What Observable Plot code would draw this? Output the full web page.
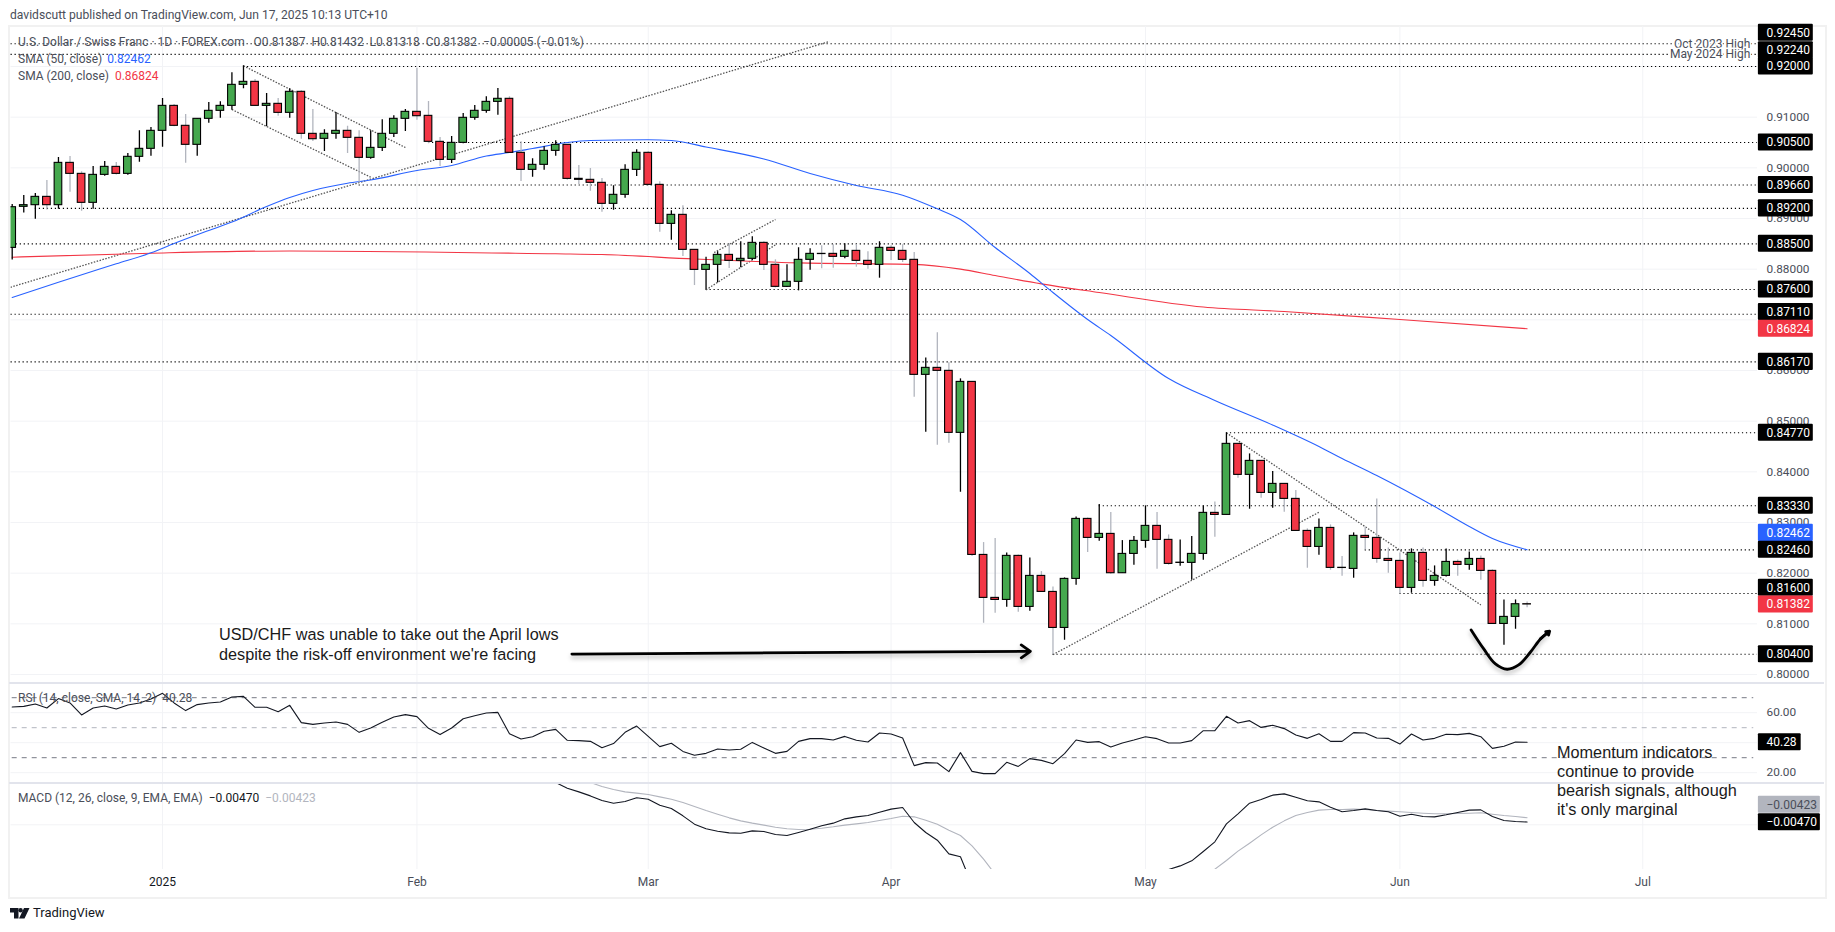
<!DOCTYPE html>
<html>
<head>
<meta charset="utf-8">
<script src="https://cdn.jsdelivr.net/npm/d3@7"></script>
<script src="https://cdn.jsdelivr.net/npm/@observablehq/plot@0.6"></script>
<style>
html,body{margin:0;padding:0;background:#fff;overflow:hidden}
#page{position:relative;width:1835px;height:932px;overflow:hidden;font-family:Roboto,sans-serif;color:#4a4e59}
#page svg{position:absolute;left:0;overflow:visible}
.t{position:absolute;white-space:pre;font-size:12px;line-height:14px}
#frame{position:absolute;left:8px;top:25px;width:1815px;height:870px;border:2px solid #f1f1f1;pointer-events:none}
.div{position:absolute;left:9px;width:1815px;height:2px;background:#e2e4ec}
.note{position:absolute;white-space:pre;font-family:"Liberation Sans",Arial,sans-serif;font-size:16.25px;color:#1a1a1a}
</style>
</head>
<body>
<div id="page">
  <div class="t" style="left:10px;top:8px;font-size:12.1px">davidscutt published on TradingView.com, Jun 17, 2025 10:13 UTC+10</div>
  <div id="frame"></div>
  <div id="plots"></div>
  <div class="div" style="top:682px"></div>
  <div class="div" style="top:782px"></div>
  <div class="t" style="left:18px;top:35px">U.S. Dollar / Swiss Franc · 1D · FOREX.com   O0.81387  H0.81432  L0.81318  C0.81382  −0.00005 (−0.01%)</div>
  <div class="t" style="left:18px;top:52px">SMA (50, close) <span style="color:#2962ff;margin-left:2px">0.82462</span></div>
  <div class="t" style="left:18px;top:69px">SMA (200, close)  <span style="color:#f23645">0.86824</span></div>
  <div class="t" style="left:18px;top:691px">RSI (14, close, SMA, 14, 2)  40.28</div>
  <div class="t" style="left:18px;top:791px">MACD (12, 26, close, 9, EMA, EMA)  <span style="color:#131722">−0.00470</span>  <span style="color:#b2b5be">−0.00423</span></div>
  <div class="note" style="left:219px;top:624px;line-height:20px">USD/CHF was unable to take out the April lows
despite the risk-off environment we're facing</div>
  <div class="note" style="left:1557px;top:743px;line-height:19px">Momentum indicators
continue to provide
bearish signals, although
it's only marginal</div>
  <svg style="left:10px;top:908px" width="20" height="12" viewBox="0 0 20 12"><path d="M0 0h8.5v10.5H4V4.5H0z M14 0h5.5L14.5 10.5H9z" fill="#131722"/><circle cx="10.6" cy="2.2" r="2.2" fill="#131722"/></svg>
  <div class="t" style="left:33px;top:906px;font-size:13px;color:#131722">TradingView</div>
</div>
<script>
// ---- candles, one entry per trading day (bar 0 .. bar 131)
const opens = [
.88420,.89230,.89263,.89427,.89263,.90098,.89881,.89309,.89861,.90019,
.89881,.90217,.90375,.90730,.91223,.90829,.90454,.90967,.91125,.91223,
.91638,.91697,.91223,.91263,.91085,.91500,.90671,.90572,.90671,.90730,
.90592,.90197,.90394,.90671,.90967,.91105,.91026,.90513,.90157,.90493,
.90987,.91125,.91302,.91362,.90296,.89960,.90059,.90335,.90454,.89783,
.89763,.89704,.89289,.89467,.89960,.90296,.89664,.88894,.89072,.88381,
.87986,.88085,.88282,.88164,.88204,.88519,.88085,.87651,.87750,.88184,
.88302,.88302,.88243,.88361,.88164,.88085,.88421,.88361,.88184,.85914,
.86052,.85993,.84769,.85775,.82360,.81512,.81472,.82341,.81334,.81946,
.81630,.80919,.81887,.83071,.82696,.82775,.81999,.82380,.82637,.82933,
.82657,.82202,.82203,.82380,.83190,.83150,.84552,.83940,.84216,.83584,
.83762,.83466,.82834,.82518,.82893,.82106,.82084,.82736,.82696,.82281,
.82242,.81709,.82400,.81847,.81946,.82222,.82163,.82281,.82045,.80998,
.81137,.81387];
const closes = [
.89223,.89263,.89427,.89263,.90098,.89881,.89309,.89861,.90019,.89881,
.90217,.90375,.90730,.91223,.90829,.90454,.90967,.91125,.91223,.91638,
.91697,.91223,.91263,.91085,.91500,.90671,.90565,.90671,.90730,.90592,
.90197,.90394,.90671,.90967,.91105,.91019,.90513,.90157,.90493,.90987,
.91125,.91302,.91362,.90296,.89960,.90059,.90335,.90454,.89782,.89763,
.89704,.89289,.89467,.89960,.90296,.89664,.88894,.89072,.88381,.87986,
.88085,.88282,.88164,.88204,.88519,.88085,.87651,.87750,.88184,.88302,
.88298,.88243,.88361,.88164,.88085,.88421,.88361,.88184,.85914,.86052,
.85993,.84769,.85775,.82360,.81512,.81472,.82341,.81334,.81946,.81630,
.80919,.81887,.83071,.82696,.82775,.81999,.82380,.82637,.82933,.82657,
.82183,.82207,.82380,.83190,.83150,.84552,.83940,.84216,.83584,.83762,
.83466,.82834,.82518,.82893,.82104,.82102,.82736,.82696,.82281,.82242,
.81709,.82400,.81847,.81946,.82222,.82163,.82281,.82045,.80998,.81137,
.81387,.81382];
const highs = [
.89276,.89453,.89493,.89749,.90204,.90223,.89921,.90026,.90125,.90105,
.90282,.90730,.90796,.91368,.91250,.91052,.90967,.91289,.91302,.91875,
.92013,.91743,.91467,.91368,.91559,.91520,.91151,.90750,.91092,.90822,
.90730,.90730,.90947,.91026,.91151,.91967,.91309,.90598,.90618,.91072,
.91230,.91401,.91566,.91401,.90513,.90177,.90414,.90533,.90454,.90046,
.89987,.89789,.89645,.90059,.90355,.90316,.89723,.89151,.89250,.88381,
.88236,.88342,.88500,.88539,.88638,.88539,.88184,.88085,.88421,.88401,
.88460,.88480,.88500,.88480,.88342,.88539,.88460,.88480,.88329,.86249,
.86743,.86151,.85835,.85775,.82604,.82683,.82400,.82360,.82301,.82031,
.81729,.81906,.83111,.83091,.83354,.83196,.82643,.82722,.83328,.83196,
.82755,.82657,.82722,.83328,.83407,.84769,.84552,.84354,.84216,.84005,
.83762,.83630,.82874,.83071,.82953,.82328,.82795,.82913,.83466,.82499,
.82400,.82479,.82499,.82143,.82479,.82262,.82420,.82341,.82064,.81472,
.81472,.81432];
const lows = [
.88183,.89111,.88986,.89170,.89184,.89519,.89144,.89184,.89835,.89861,
.89855,.90111,.90230,.90408,.90809,.90092,.90230,.90881,.90980,.91138,
.91559,.91217,.90809,.91019,.90980,.90565,.90519,.90322,.90565,.90282,
.89697,.90171,.90322,.90598,.90717,.90940,.90473,.90026,.90085,.90473,
.90940,.91079,.91039,.90289,.89730,.89815,.89953,.90230,.89756,.89671,
.89539,.89125,.89164,.89401,.89829,.89645,.88730,.88572,.88250,.87677,
.87592,.87730,.88013,.88026,.88171,.87973,.87631,.87638,.87572,.87980,
.88006,.88019,.88204,.88039,.88000,.87822,.88171,.88131,.85473,.84782,
.84525,.84565,.83597,.82327,.81011,.81209,.81328,.81229,.81248,.81624,
.80393,.80676,.81762,.82407,.82630,.81979,.81999,.82156,.82492,.82078,
.82156,.82137,.81860,.82255,.82709,.83150,.83874,.83262,.83479,.83282,
.83203,.82834,.82097,.82354,.82058,.81939,.81900,.82459,.82196,.81999,
.81591,.81604,.81722,.81742,.81926,.81939,.82058,.81860,.80998,.80577,
.80893,.81318];

// ---- moving averages: [bar, value] read at the visible vertices
const sma50Bars = [0,4,9,12,14,17,19,22,24,26,29,31,35,38,41,43,45,48,50,55,57,60,65,69,73,77,80,82,85,88,90,93,95,100,104,109,113,115,118,123,126,128,131];
const sma50Vals = [.87440,.87742,.88105,.88322,.88506,.88763,.88930,.89236,.89414,.89552,.89696,.89760,.89947,.90046,.90233,.90302,.90381,.90500,.90539,.90553,.90539,.90411,.90174,.89888,.89651,.89460,.89191,.88980,.88427,.87914,.87539,.87006,.86690,.85841,.85407,.84923,.84499,.84262,.83926,.83314,.82920,.82683,.82462];
const sma200Bars = [0,12,24,47,51,59,68,78,82,85,89,94,103,110,120,131];
const sma200Vals = [.88236,.88315,.88360,.88303,.88289,.88200,.88125,.88095,.88000,.87874,.87710,.87539,.87252,.87164,.87006,.86824];

// ---- RSI, bar 0 .. bar 131
const rsiVals = [
63.8,64.2,65.8,63.1,69.4,66.5,58.5,63.1,64.5,62.5,65.1,66.5,69.1,72.9,66.5,61.4,65.4,66.5,67.1,70.5,
70.9,63.6,63.6,60.7,64.9,53.4,52.2,53.1,53.8,52.2,46.9,49.8,53.6,57.1,58.7,57.4,49.6,45.4,49.8,56.0,
58.0,59.8,60.2,46.0,42.5,44.0,47.6,48.9,41.6,41.4,40.9,36.7,39.4,46.9,51.1,44.2,37.4,39.6,34.2,31.6,
32.9,35.8,35.1,35.6,40.2,36.5,32.9,34.2,40.9,42.7,42.7,41.8,44.2,41.6,40.5,46.5,45.8,43.1,24.7,26.7,
26.5,20.7,33.4,20.9,19.4,19.4,26.9,24.2,29.4,28.2,26.0,32.7,41.8,40.2,40.7,37.1,39.8,41.8,44.0,42.7,
39.8,39.8,41.4,48.0,48.0,57.6,53.1,54.7,50.2,51.6,49.4,45.1,42.9,46.0,40.9,40.9,46.7,46.5,43.1,42.9,
39.1,45.8,41.8,42.9,45.6,45.4,46.2,44.0,36.2,37.6,40.5,40.28];

// ---- MACD: only the stretches that stay inside the pane
const macdStartA = 47;
const macdA = [-.00038,-.00100,-.00140,-.00184,-.00235,-.00264,-.00246,-.00205,-.00220,-.00286,-.00322,-.00402,-.00493,-.00544,-.00570,-.00588,-.00592,-.00566,-.00573,-.00606,-.00617,-.00584,-.00548,-.00511,-.00482,-.00435,-.00413,-.00399,-.00362,-.00329,-.00311,-.00475,-.00584,-.00668,-.00818,-.00850,-.01156];
const macdStartB = 100;
const macdB = [-.00989,-.00949,-.00894,-.00792,-.00686,-.00490,-.00380,-.00264,-.00224,-.00176,-.00162,-.00198,-.00238,-.00249,-.00307,-.00358,-.00344,-.00326,-.00344,-.00358,-.00406,-.00384,-.00409,-.00413,-.00391,-.00366,-.00340,-.00337,-.00409,-.00453,-.00464,-.00470];
const signalStartA = 50;
const signalA = [-.00038,-.00082,-.00114,-.00140,-.00154,-.00169,-.00195,-.00220,-.00256,-.00300,-.00344,-.00384,-.00424,-.00457,-.00482,-.00504,-.00526,-.00544,-.00552,-.00548,-.00537,-.00522,-.00504,-.00490,-.00475,-.00453,-.00431,-.00406,-.00413,-.00450,-.00493,-.00559,-.00617,-.00730,-.00876,-.01040];
const signalStartB = 104;
const signalB = [-.00985,-.00890,-.00788,-.00701,-.00610,-.00526,-.00457,-.00399,-.00366,-.00340,-.00333,-.00333,-.00329,-.00333,-.00344,-.00351,-.00358,-.00366,-.00373,-.00380,-.00380,-.00377,-.00373,-.00369,-.00384,-.00399,-.00409,-.00423];

// ---- axes and levels
const monthBars = [35,55,76,98,120,141];
const monthNames = ["Feb","Mar","Apr","May","Jun","Jul"];
const yearBar = 13, yearName = "2025";
const priceGrid = [.80,.81,.82,.83,.84,.85,.86,.87,.88,.89,.90,.91,.92];
const priceTicks = [.80,.81,.82,.83,.84,.85,.86,.88,.89,.90,.91];
const levelValues = [.9245,.9224,.92,.905,.8966,.892,.885,.876,.8711,.8617,.8477,.8333,.8246,.816,.804];
const levelStarts = [-1,-1,20,36,30,2,0,60,-1,-1,105,94,117,120,90];

const tagLabels  = ["0.92450","0.92240","0.92000","0.90500","0.89660","0.89200","0.88500","0.87600","0.87110","0.86824","0.86170","0.84770","0.83330","0.82462","0.82460","0.81600","0.81382","0.80400"];
const tagCenters = [.92665,.92322,.92,.905,.8966,.892,.885,.876,.87154,.86824,.8617,.8477,.8333,.82795,.8246,.8171,.81382,.804];
const tagColors  = ["#000","#000","#000","#000","#000","#000","#000","#000","#000","#f23645","#000","#000","#000","#2962ff","#000","#000","#f23645","#000"];

// ---- drawn trend lines: bar, price pairs
const trendX1 = [-0.15,20,19,60,60.7,90,105];
const trendY1 = [.87643,.92013,.91151,.87592,.88328,.80393,.84769];
const trendX2 = [70.67,34,31,66,66,113,127];
const trendY2 = [.92494,.90401,.89815,.88480,.88980,.83202,.81373];
const curveBars = [126.16,127.25,128.26,129.27,130.27,131.28,132.15,132.7];
const curvePrices = [.80880,.80505,.80209,.80104,.80189,.80439,.80702,.80814];

// ---- shared
const font = "Roboto, sans-serif";
const green = "#45a84e", red = "#f23645", gridC = "#f2f3f6", tickC = "#4a4e59";
const xScale = {domain:[0,131], range:[11.7,1526.6], axis:null};
const bars = opens.map((o,i)=>({i,o,c:closes[i],h:highs[i],l:lows[i]}));
const zip = (xs,ys)=>xs.map((x,k)=>({x,y:ys[k]}));
const seq = (start,ys)=>ys.map((y,k)=>({x:start+k,y}));
const XL = 151, monthGrid = Plot.ruleX([yearBar,...monthBars],{stroke:gridC});
const base = {width:1835, marginLeft:10.5, marginRight:78, marginTop:0, color:{type:"identity"}, style:{fontFamily:font, background:"transparent", overflow:"visible"}};
const tickAxis = (ticks,fmt)=>Plot.axisY(ticks,{anchor:"right",tickSize:0,tickPadding:9,tickFormat:fmt,fontSize:11.8,fill:tickC,fontFamily:font,label:null});
const tagMark = (rows,half)=>[
  Plot.rect(rows,{x1:XL,x2:d=>d.x2,y1:d=>d.y+half,y2:d=>d.y-half,fill:d=>d.fill,rx:1}),
  Plot.text(rows,{x:XL+0.7,y:"y",text:"text",fill:d=>d.ink,textAnchor:"start",fontSize:12,fontWeight:d=>d.ink==="#fff"?600:400,fontFamily:font})
];

// ---- price pane
const tagRows = tagLabels.map((text,k)=>({text,y:tagCenters[k],fill:tagColors[k],ink:"#fff",x2:155.75}));
const levels = levelValues.map((v,k)=>({v,s:levelStarts[k]}));
const trends = trendX1.map((x1,k)=>({x1,x2:trendX2[k],y1:trendY1[k],y2:trendY2[k]}));
const pricePlot = Plot.plot({...base, height:656, marginBottom:0,
  x:xScale, y:{domain:[.92,.80], range:[40,648], axis:null},
  marks:[
    monthGrid,
    Plot.ruleY(priceGrid,{stroke:gridC}),
    Plot.ruleY(levels,{y:"v",x1:d=>d.s<0?-0.1:d.s,x2:150.9,stroke:"#000",strokeDasharray:"1.2,2.8",strokeWidth:1.1}),
    Plot.link(trends,{x1:"x1",y1:"y1",x2:"x2",y2:"y2",stroke:"#555",strokeWidth:1.3,strokeDasharray:"1.5,1.5",clip:true}),
    Plot.line(zip(sma200Bars,sma200Vals),{x:"x",y:"y",stroke:"#f23645",strokeWidth:1.1,curve:"monotone-x"}),
    Plot.line(zip(sma50Bars,sma50Vals),{x:"x",y:"y",stroke:"#2962ff",strokeWidth:1.1,curve:"monotone-x"}),
    Plot.ruleX(bars,{x:"i",y1:"l",y2:"h",stroke:d=>d.c>=d.o?"#000":"#b2b5be",strokeWidth:1.3,clip:true}),
    Plot.rect(bars,{x1:d=>d.i-.33,x2:d=>d.i+.33,y1:"o",y2:"c",fill:d=>d.c>=d.o?green:red,stroke:"#000",strokeWidth:1.1,clip:true}),
    Plot.arrow([{a:48.4,b:.80403,c:88.05,d:.80458}],{x1:"a",y1:"b",x2:"c",y2:"d",stroke:"#000",strokeWidth:2.8,headLength:6,headAngle:70,bend:0,imageFilter:"drop-shadow(0 3px 2px #0004)"}),
    Plot.line(zip(curveBars,curvePrices),{x:"x",y:"y",stroke:"#000",strokeWidth:2.8,curve:"catmull-rom",imageFilter:"drop-shadow(0 3px 2px #0004)"}),
    Plot.arrow([{a:curveBars[6],b:curvePrices[6],c:curveBars[7]+.25,d:curvePrices[7]+.0004}],{x1:"a",y1:"b",x2:"c",y2:"d",stroke:"#000",strokeWidth:2.8,headLength:9,headAngle:70}),
    Plot.text([{x:150.3,y:.9245,t:"Oct 2023 High"},{x:150.3,y:.9224,t:"May 2024 High"}],{x:"x",y:"y",text:"t",textAnchor:"end",fill:"#4a4e59",stroke:"#fff",strokeWidth:3,fontSize:12,fontFamily:font}),
    tickAxis(priceTicks,d3.format(".5f")),
    tagMark(tagRows,.00168)
  ]});

// ---- RSI pane
const rsiPlot = Plot.plot({...base, height:100, marginBottom:0,
  x:xScale, y:{domain:[60,20], range:[29.2,89.2], axis:null},
  marks:[
    monthGrid,
    Plot.ruleY([60,40,20],{stroke:gridC}),
    Plot.ruleY([70,30],{stroke:"#787b86",strokeDasharray:"5,5",x2:150.6}),
    Plot.ruleY([50],{stroke:"#b2b5be",strokeDasharray:"5,5",x2:150.6}),
    Plot.line(rsiVals.map((y,x)=>({x,y})),{x:"x",y:"y",stroke:"#131722",strokeWidth:1.1}),
    tickAxis([60,20],d3.format(".2f")),
    tagMark([{text:"40.28",y:40.28,fill:"#000",ink:"#fff",x2:154.7}],5.67)
  ]});

// ---- MACD pane with the time axis
const macdPlot = Plot.plot({...base, height:115, marginBottom:28,
  x:xScale, y:{domain:[-.001,-.009], range:[5.7,78.9], axis:null},
  marks:[
    monthGrid,
    Plot.ruleY([-.005],{stroke:gridC}),
    Plot.line(seq(signalStartA,signalA),{x:"x",y:"y",stroke:"#b2b5be",strokeWidth:1.1,clip:true}),
    Plot.line(seq(signalStartB,signalB),{x:"x",y:"y",stroke:"#b2b5be",strokeWidth:1.1,clip:true}),
    Plot.line(seq(macdStartA,macdA),{x:"x",y:"y",stroke:"#131722",strokeWidth:1.1,clip:true}),
    Plot.line(seq(macdStartB,macdB),{x:"x",y:"y",stroke:"#131722",strokeWidth:1.1,clip:true}),
    Plot.axisX(monthBars,{anchor:"bottom",tickSize:0,tickPadding:8,tickFormat:d=>monthNames[monthBars.indexOf(d)],fill:tickC,fontSize:12,fontFamily:font,label:null}),
    Plot.axisX([yearBar],{anchor:"bottom",tickSize:0,tickPadding:8,tickFormat:()=>yearName,fill:"#131722",fontSize:12,fontFamily:font,label:null}),
    tagMark([{text:"−0.00423",y:-.00281,fill:"#b2b5be",ink:"#4a4e59",x2:156.36},{text:"−0.00470",y:-.00472,fill:"#000",ink:"#fff",x2:156.36}],.00093)
  ]});

const host = document.getElementById("plots");
[[pricePlot,26],[rsiPlot,682.5],[macdPlot,782]].forEach(([p,top])=>{p.style.top=top+"px";p.style.position="absolute";host.appendChild(p);});
</script>
</body>
</html>
